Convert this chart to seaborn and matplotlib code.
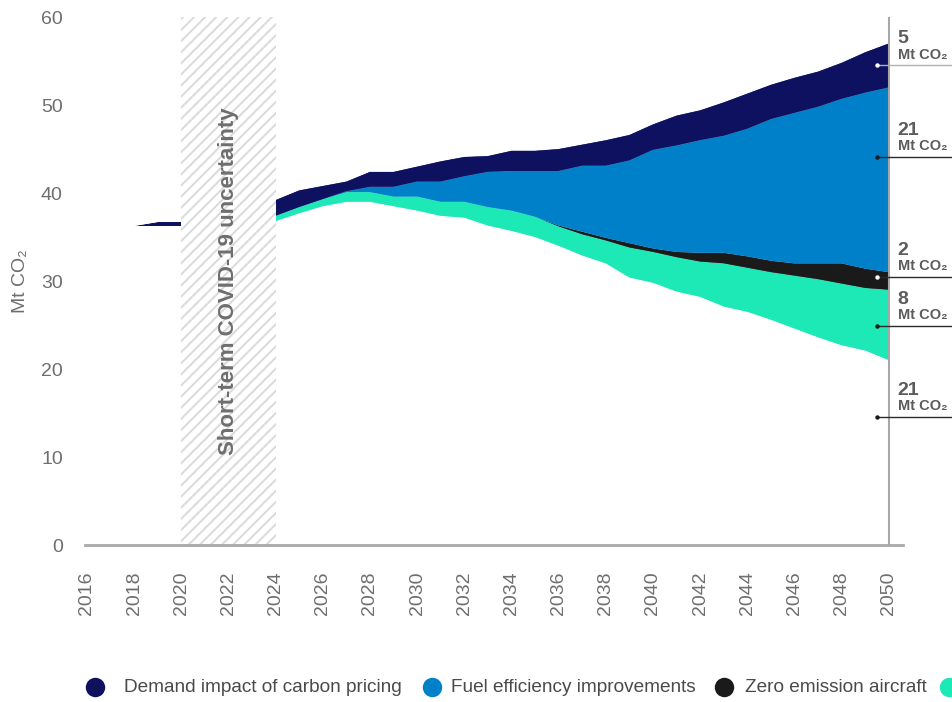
import matplotlib
matplotlib.use("Agg")
import matplotlib.pyplot as plt
from matplotlib.lines import Line2D
from matplotlib.patches import Rectangle
import pandas as pd
import seaborn as sns
import seaborn.objects as so

# ---------------------------------------------------------------- data
layers = [
    "Remaining emissions",
    "Sustainable aviation fuels",
    "Zero emission aircraft",
    "Fuel efficiency improvements",
    "Demand impact of carbon pricing",
]

# observed period before the COVID-19 gap
hist_years = [2018, 2019, 2020]
hist_remaining = [36.2, 36.2, 36.2]
hist_saf = [0.0, 0.0, 0.0]
hist_zero_emission = [0.0, 0.0, 0.0]
hist_fuel_efficiency = [0.0, 0.0, 0.0]
hist_demand = [0.0, 0.55, 0.55]

# projection period, Mt CO2 per year for each abatement lever
proj_years = list(range(2024, 2051))
remaining = [36.8, 37.7, 38.5, 39.0, 39.0, 38.5, 38.0, 37.4, 37.2, 36.3,
             35.7, 35.0, 34.0, 32.9, 32.0, 30.4, 29.8, 28.8, 28.2, 27.1,
             26.5, 25.6, 24.6, 23.6, 22.7, 22.1, 21.0]
saf = [0.6, 0.7, 0.8, 1.1, 1.1, 1.1, 1.6, 1.6, 1.8, 2.1,
       2.3, 2.3, 2.2, 2.4, 2.6, 3.4, 3.5, 3.9, 4.0, 4.9,
       5.0, 5.4, 6.0, 6.6, 7.0, 7.1, 8.0]
zero_emission = [0.0, 0.0, 0.0, 0.0, 0.0, 0.0, 0.0, 0.0, 0.0, 0.0,
                 0.0, 0.0, 0.1, 0.3, 0.3, 0.5, 0.4, 0.6, 1.0, 1.2,
                 1.3, 1.3, 1.4, 1.8, 2.3, 2.2, 2.0]
fuel_efficiency = [0.0, 0.0, 0.0, 0.1, 0.6, 1.1, 1.7, 2.3, 2.9, 4.0,
                   4.5, 5.2, 6.2, 7.5, 8.2, 9.4, 11.2, 12.1, 12.8, 13.3,
                   14.5, 16.1, 17.1, 17.8, 18.7, 20.0, 21.0]
demand = [1.8, 1.9, 1.5, 1.1, 1.7, 1.7, 1.7, 2.3, 2.2, 1.8,
          2.3, 2.3, 2.5, 2.4, 2.9, 2.9, 2.9, 3.4, 3.4, 3.8,
          4.0, 3.9, 4.0, 4.0, 4.1, 4.6, 5.0]

# 2050 call-outs on the right edge
callout_values = ["5", "21", "2", "8", "21"]
callout_levels = [54.5, 44.1, 30.5, 24.9, 14.6]

xtick_years = list(range(2016, 2051, 2))
ytick_values = [0, 10, 20, 30, 40, 50, 60]

legend_labels = layers[::-1][:4]

# ---------------------------------------------------------------- style
colors = {
    "Remaining emissions": "#ffffff",
    "Sustainable aviation fuels": "#1de9b6",
    "Zero emission aircraft": "#1a1a1a",
    "Fuel efficiency improvements": "#0080c8",
    "Demand impact of carbon pricing": "#0d1160",
}
grey_text = "#6e6e6e"

sns.set_theme(style="white")
plt.rcParams["font.family"] = ["Liberation Sans", "DejaVu Sans"]
plt.rcParams["hatch.linewidth"] = 1.4

# ---------------------------------------------------------------- frame
frames = []
for seg, yrs, series in [
    ("hist", hist_years, [hist_remaining, hist_saf, hist_zero_emission,
                          hist_fuel_efficiency, hist_demand]),
    ("proj", proj_years, [remaining, saf, zero_emission,
                          fuel_efficiency, demand]),
]:
    for name, vals in zip(layers, series):
        frames.append(pd.DataFrame({"year": yrs, "value": vals,
                                    "layer": name, "segment": seg}))
df = pd.concat(frames, ignore_index=True)

# ---------------------------------------------------------------- figure
W, H = 952, 702
fig = plt.figure(figsize=(W / 100, H / 100), dpi=100)
ax = fig.add_axes([85 / W, 1 - 545 / H, 818 / W, 528 / H])

(
    so.Plot(df, x="year", y="value", color="layer", group="segment")
    .add(so.Area(alpha=1, edgewidth=0.4), so.Stack(), legend=False)
    .scale(color=so.Nominal(colors, order=layers))
    .on(ax)
    .plot()
)

ax.set_xlim(2015.92, 2050.6)
ax.set_ylim(0, 60)
ax.set_xticks(xtick_years)
ax.set_xticklabels([str(y) for y in xtick_years], rotation=90)
ax.set_yticks(ytick_values)
ax.set_yticklabels([str(v) for v in ytick_values])
ax.tick_params(axis="both", length=0, labelsize=14, colors=grey_text)
ax.tick_params(axis="x", pad=19)
ax.tick_params(axis="y", pad=16)
ax.set_xlabel("")
ax.set_ylabel("Mt CO₂", fontsize=14, color=grey_text)
ax.yaxis.set_label_coords(-0.069, 0.5)
ax.grid(False)
ax.set_facecolor("white")
for side in ["left", "top", "right"]:
    ax.spines[side].set_visible(False)
ax.spines["bottom"].set_color("#a8a8a8")
ax.spines["bottom"].set_linewidth(2.0)
ax.spines["bottom"].set_zorder(6)

# COVID-19 uncertainty band
ax.add_patch(Rectangle((2020, 0), 4, 60, facecolor="white",
                       edgecolor="#dadada", hatch="///", linewidth=0,
                       zorder=3))
ax.text(2022, 30, "Short-term COVID-19 uncertainty", rotation=90,
        ha="center", va="center", fontsize=16, fontweight="bold",
        color=grey_text, zorder=4)

# 2050 marker line
ax.axvline(2050, color="#a8a8a8", linewidth=1.5, zorder=5)

# call-outs
dot_colors = ["white", "#1a1a1a", "white", "#1a1a1a", "#1a1a1a"]
line_colors = ["#b0b0b0", "#2a2a2a", "#2a2a2a", "#2a2a2a", "#2a2a2a"]
for val, lvl, dc, lc in zip(callout_values, callout_levels,
                            dot_colors, line_colors):
    ax.plot([2049.48, 2053.5], [lvl, lvl], color=lc, linewidth=1.0,
            clip_on=False, zorder=6)
    ax.plot([2049.48], [lvl], marker="o", markersize=3.2, color=dc,
            markeredgewidth=0, clip_on=False, zorder=7)
    ax.annotate(val, xy=(2050, lvl), xytext=(9, 22),
                textcoords="offset pixels", ha="left", va="baseline",
                fontsize=14, fontweight="bold", color="#5c5c5c",
                annotation_clip=False)
    ax.annotate("Mt CO₂", xy=(2050, lvl), xytext=(9, 6.5),
                textcoords="offset pixels", ha="left", va="baseline",
                fontsize=10.5, fontweight="bold", color="#5c5c5c",
                annotation_clip=False)

# legend row
legend_y = 1 - 687 / H
marker_x = [95, 432, 723.6, 949]
label_x = [123.6, 451, 744.7, 972]
for name, mx, lx in zip(legend_labels, marker_x, label_x):
    fig.add_artist(Line2D([mx / W], [legend_y], transform=fig.transFigure,
                          marker="o", markersize=14, linestyle="",
                          color=colors[name], markeredgewidth=0))
    fig.text(lx / W, legend_y, name, ha="left", va="center",
             fontsize=13.7, color="#4a4a4a")

fig.savefig("out.png", dpi=100)
